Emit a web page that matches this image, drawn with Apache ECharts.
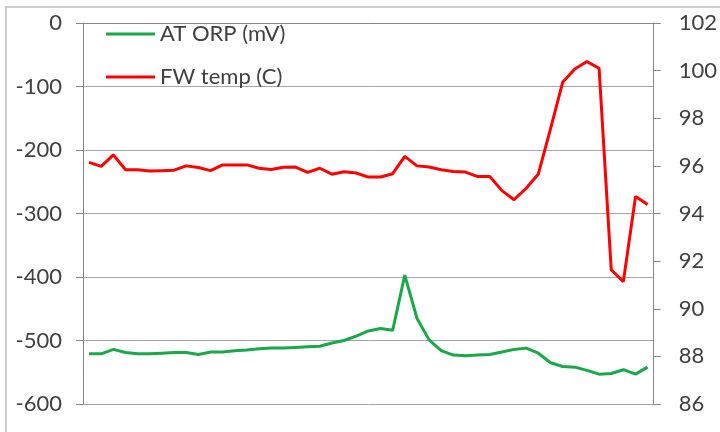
<!DOCTYPE html>
<html>
<head>
<meta charset="utf-8">
<script src="https://cdn.jsdelivr.net/npm/echarts@6/dist/echarts.min.js"></script>
<style>
html,body{margin:0;padding:0;background:#fff;}
#chart{width:720px;height:432px;}
</style>
</head>
<body>
<div id="chart"></div>
<script>
// Data
var categories = [];
for (var k = 1; k <= 47; k++) categories.push(String(k));

var orpName = 'AT ORP (mV)';
var tempName = 'FW temp (C)';

var orpValues = [
  -521, -521, -514, -519, -521, -521, -520, -519, -519, -522,
  -518, -518, -516, -515, -513, -512, -512, -511, -510, -509,
  -504, -500, -493, -485, -481, -484, -397, -465, -499, -516,
  -523, -524, -523, -522, -518, -514, -512, -520, -535, -541,
  -542, -547, -553, -552, -546, -553, -542
];

var tempValues = [
  96.15, 95.98, 96.46, 95.84, 95.84, 95.78, 95.80, 95.82, 96.00, 95.93,
  95.80, 96.04, 96.04, 96.04, 95.90, 95.85, 95.94, 95.95, 95.73, 95.90,
  95.65, 95.75, 95.70, 95.53, 95.53, 95.67, 96.40, 96.00, 95.95, 95.84,
  95.76, 95.74, 95.55, 95.55, 94.96, 94.58, 95.06, 95.66, 97.55, 99.51,
  100.07, 100.38, 100.10, 91.64, 91.14, 94.71, 94.38
];

var leftTicks = { min: -600, max: 0, interval: 100 };
var rightTicks = { min: 86, max: 102, interval: 2 };

var font = 'Lato, "Open Sans", sans-serif';
var chart = echarts.init(document.getElementById('chart'));
chart.setOption({
  animation: false,
  backgroundColor: '#ffffff',
  graphic: [{
    type: 'rect',
    shape: { x: 6, y: 7, width: 720, height: 430 },
    style: { fill: 'none', stroke: '#bfbfbf', lineWidth: 1.5 },
    silent: true
  }],
  grid: { left: 83, right: 63, top: 23, bottom: 28 },
  legend: {
    orient: 'vertical',
    left: 101,
    top: 17,
    padding: 5,
    itemWidth: 49,
    itemHeight: 3,
    itemGap: 19,
    icon: 'rect',
    textStyle: { fontFamily: font, fontSize: 22, color: '#404040', lineHeight: 24 },
    data: [orpName, tempName]
  },
  xAxis: {
    type: 'category',
    data: categories,
    boundaryGap: true,
    axisLine: { show: true, lineStyle: { color: '#868686', width: 1 } },
    axisTick: { show: false },
    axisLabel: { show: false },
    splitLine: { show: false }
  },
  yAxis: [{
    type: 'value',
    position: 'left',
    min: leftTicks.min,
    max: leftTicks.max,
    interval: leftTicks.interval,
    axisLine: { show: true, lineStyle: { color: '#868686', width: 1 } },
    axisTick: { show: true, length: 7, lineStyle: { color: '#868686' } },
    axisLabel: { margin: 21, fontFamily: font, fontSize: 22, color: '#404040' },
    splitLine: { show: true, lineStyle: { color: '#a6a6a6', width: 1 } }
  }, {
    type: 'value',
    position: 'right',
    min: rightTicks.min,
    max: rightTicks.max,
    interval: rightTicks.interval,
    axisLine: { show: true, lineStyle: { color: '#868686', width: 1 } },
    axisTick: { show: true, length: 7, lineStyle: { color: '#868686' } },
    axisLabel: { margin: 25, fontFamily: font, fontSize: 22, color: '#404040' },
    splitLine: { show: false }
  }],
  series: [{
    name: orpName,
    type: 'line',
    yAxisIndex: 0,
    data: orpValues,
    showSymbol: false,
    symbol: 'none',
    lineStyle: { color: '#1aa84a', width: 3 },
    itemStyle: { color: '#1aa84a' }
  }, {
    name: tempName,
    type: 'line',
    yAxisIndex: 1,
    data: tempValues,
    showSymbol: false,
    symbol: 'none',
    lineStyle: { color: '#ff0000', width: 3 },
    itemStyle: { color: '#ff0000' }
  }]
});
</script>
</body>
</html>
